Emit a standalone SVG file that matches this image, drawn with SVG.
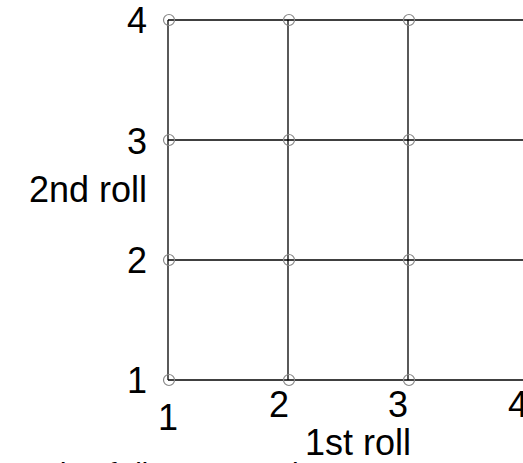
<svg xmlns="http://www.w3.org/2000/svg" width="523" height="463" viewBox="0 0 523 463">
<style>
.ln{stroke:#000;stroke-width:1.3;fill:none}
.pt{stroke:#888;stroke-width:1.2;fill:none}
.lb{font-family:"Liberation Sans",Arial,sans-serif;font-size:36px;fill:#000}
.cap{font-family:"Liberation Sans",Arial,sans-serif;font-size:30px;font-style:italic;fill:#000}
</style>
<rect width="523" height="463" fill="#fff"/>
<g id="connectors">
<line class="ln" x1="168" y1="20" x2="168" y2="380"/>
<line class="ln" x1="288" y1="20" x2="288" y2="380"/>
<line class="ln" x1="408" y1="20" x2="408" y2="380"/>
<line class="ln" x1="168" y1="20" x2="523" y2="20"/>
<line class="ln" x1="168" y1="140" x2="523" y2="140"/>
<line class="ln" x1="168" y1="260" x2="523" y2="260"/>
<line class="ln" x1="168" y1="380" x2="523" y2="380"/>
</g>
<g id="points">
<circle class="pt" cx="169" cy="20" r="5.5"/><circle class="pt" cx="289" cy="20" r="5.5"/><circle class="pt" cx="409" cy="20" r="5.5"/>
<circle class="pt" cx="169" cy="140" r="5.5"/><circle class="pt" cx="289" cy="140" r="5.5"/><circle class="pt" cx="409" cy="140" r="5.5"/>
<circle class="pt" cx="169" cy="260" r="5.5"/><circle class="pt" cx="289" cy="260" r="5.5"/><circle class="pt" cx="409" cy="260" r="5.5"/>
<circle class="pt" cx="169" cy="380" r="5.5"/><circle class="pt" cx="289" cy="380" r="5.5"/><circle class="pt" cx="409" cy="380" r="5.5"/>
</g>
<g id="y-axis">
<text class="lb" x="147" y="33" text-anchor="end">4</text>
<text class="lb" x="147" y="154" text-anchor="end">3</text>
<text class="lb" x="147" y="202" text-anchor="end">2nd roll</text>
<text class="lb" x="147" y="273" text-anchor="end">2</text>
<text class="lb" x="147" y="393" text-anchor="end">1</text>
</g>
<g id="x-axis">
<text class="lb" x="168" y="430" text-anchor="middle">1</text>
<text class="lb" x="279" y="417" text-anchor="middle">2</text>
<text class="lb" x="398" y="417" text-anchor="middle">3</text>
<text class="lb" x="508" y="417">4</text>
<text class="lb" x="305" y="455">1st roll</text>
</g>
<text class="cap" x="-36" y="484">Example of discrete random</text>
</svg>
